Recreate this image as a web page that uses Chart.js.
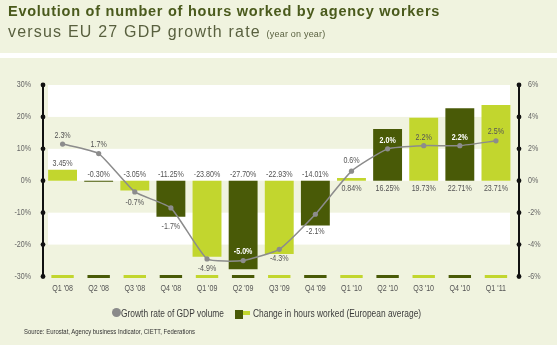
<!DOCTYPE html>
<html>
<head>
<meta charset="utf-8">
<script src="https://cdn.jsdelivr.net/npm/chart.js@4"></script>
<style>
  html, body { margin: 0; padding: 0; }
  body { width: 557px; height: 354px; position: relative; overflow: hidden; background: #ffffff; }
  #bgTop { position: absolute; left: 0; top: 0; width: 557px; height: 53px; background: #f0f3df; }
  #bgMain { position: absolute; left: 0; top: 58px; width: 557px; height: 287px; background: #f0f3df; }
  canvas { position: absolute; left: 0; top: 0; }
  .t1 { position: absolute; left: 8px; top: 3px; font-family: "Liberation Sans", Arial, sans-serif; font-weight: bold; font-size: 14.5px; color: #4a5a1c; white-space: nowrap; letter-spacing: 0.75px; }
  .t2 { position: absolute; left: 8px; top: 23px; font-family: "Liberation Sans", Arial, sans-serif; font-size: 16px; color: #59603f; white-space: nowrap; letter-spacing: 1.2px; }
  .t2 small { font-size: 9px; letter-spacing: 0.2px; }
  .lg { position: absolute; top: 307px; font-family: "Liberation Sans", Arial, sans-serif; font-size: 10.5px; color: #3c3c3c; white-space: nowrap; transform: scaleX(0.8); transform-origin: 0 0; }
  .dot { position: absolute; left: 112px; top: 308px; width: 9px; height: 9px; border-radius: 50%; background: #8a8a8a; }
  .sq { position: absolute; display: block; }
  .src { position: absolute; left: 24px; top: 328px; font-family: "Liberation Sans", Arial, sans-serif; font-size: 7px; color: #333; white-space: nowrap; transform: scaleX(0.85); transform-origin: 0 0; }
</style>
</head>
<body>
<div id="bgTop"></div>
<div id="bgMain"></div>
<canvas id="c" width="557" height="354"></canvas>
<div class="t1">Evolution of number of hours worked by agency workers</div>
<div class="t2">versus EU 27 GDP growth rate <small>(year on year)</small></div>
<div class="dot"></div>
<div class="lg" style="left:121px">Growth rate of GDP volume</div>
<i class="sq" style="left:235px;top:310px;width:8px;height:9px;background:#495a07"></i>
<i class="sq" style="left:243px;top:311px;width:7px;height:4px;background:#c2d62e"></i>
<div class="lg" style="left:253px">Change in hours worked (European average)</div>
<div class="src">Source: Eurostat, Agency business Indicator, CIETT, Federations</div>
<script>
const quarters = ["Q1 '08", "Q2 '08", "Q3 '08", "Q4 '08", "Q1 '09", "Q2 '09", "Q3 '09", "Q4 '09", "Q1 '10", "Q2 '10", "Q3 '10", "Q4 '10", "Q1 '11"];
const hoursChange = [3.45, -0.30, -3.05, -11.25, -23.80, -27.70, -22.93, -14.01, 0.84, 16.25, 19.73, 22.71, 23.71];
const gdpGrowth = [2.3, 1.7, -0.7, -1.7, -4.9, -5.0, -4.3, -2.1, 0.6, 2.0, 2.2, 2.2, 2.5];
const leftTicks = [-30, -20, -10, 0, 10, 20, 30];
const rightTicks = [-6, -4, -2, 0, 2, 4, 6];

const LIGHT = '#c2d62e', DARK = '#495a07';
const barColors = quarters.map((q, i) => i % 2 === 0 ? LIGHT : DARK);
const FONT = '"Liberation Sans", Arial, sans-serif';
const SX = 0.79; // horizontal condensing of chart text

// label placement for GDP values: offset in px from point (negative = above)
const gdpOffsets = [-9, -9, 11, 19, 10, -9, 9, 17, -11, -8, -8, -8, -9];
const gdpWhite = [false, false, false, false, false, true, false, false, false, true, false, true, false];

function txt(ctx, s, x, y, align) {
  ctx.save();
  ctx.translate(x, y);
  ctx.scale(SX, 1);
  ctx.textAlign = align;
  ctx.fillText(s, 0, 0);
  ctx.restore();
}

const bandsPlugin = {
  id: 'bands',
  beforeDatasetsDraw(chart) {
    const { ctx, chartArea, scales } = chart;
    const y = scales.y;
    const l = chartArea.left + 3.5, r = chartArea.right - 4;
    ctx.save();
    ctx.fillStyle = '#ffffff';
    [[20, 30], [0, 10], [-20, -10]].forEach(([a, b]) => {
      const y1 = y.getPixelForValue(b), y2 = y.getPixelForValue(a);
      ctx.fillRect(l, y1, r - l, y2 - y1);
    });
    const x = scales.x;
    const w = (x.getPixelForValue(1) - x.getPixelForValue(0)) * 0.62;
    const yb = y.getPixelForValue(-30);
    quarters.forEach((q, i) => {
      ctx.fillStyle = barColors[i];
      const cx = x.getPixelForValue(i);
      ctx.fillRect(cx - w / 2, yb - 1.5, w, 3);
    });
    ctx.restore();
  },
  afterDraw(chart) {
    const { ctx, chartArea, scales } = chart;
    ctx.save();
    ctx.strokeStyle = '#111';
    ctx.fillStyle = '#111';
    ctx.lineWidth = 2;
    const axes = [[scales.y, chartArea.left - 1.5, leftTicks], [scales.y1, chartArea.right + 5, rightTicks]];
    axes.forEach(([s, xp, ticks]) => {
      ctx.beginPath();
      ctx.moveTo(xp, s.getPixelForValue(ticks[0]));
      ctx.lineTo(xp, s.getPixelForValue(ticks[ticks.length - 1]));
      ctx.stroke();
      ticks.forEach(t => {
        ctx.beginPath();
        ctx.arc(xp, s.getPixelForValue(t), 2.4, 0, Math.PI * 2);
        ctx.fill();
      });
    });
    ctx.font = '9px ' + FONT;
    ctx.textBaseline = 'middle';
    ctx.fillStyle = '#666';
    leftTicks.forEach(t => txt(ctx, t + '%', chartArea.left - 13.5, scales.y.getPixelForValue(t), 'right'));
    rightTicks.forEach(t => txt(ctx, t + '%', chartArea.right + 14, scales.y1.getPixelForValue(t), 'left'));
    ctx.fillStyle = '#555';
    quarters.forEach((q, i) => txt(ctx, q, scales.x.getPixelForValue(i), chartArea.bottom + 12.5, 'center'));
    ctx.restore();
  }
};

const labelsPlugin = {
  id: 'valueLabels',
  afterDatasetsDraw(chart) {
    const { ctx, scales } = chart;
    const x = scales.x, y = scales.y, y1 = scales.y1;
    ctx.save();
    ctx.textBaseline = 'middle';
    ctx.font = '9px ' + FONT;
    ctx.fillStyle = '#555';
    const zero = y.getPixelForValue(0);
    hoursChange.forEach((v, i) => {
      const cx = x.getPixelForValue(i);
      let ty;
      if (i === 0) ty = y.getPixelForValue(v) - 6.5;
      else if (v < 0) ty = zero - 6;
      else ty = zero + 7.5;
      txt(ctx, v.toFixed(2) + '%', cx, ty, 'center');
    });
    gdpGrowth.forEach((v, i) => {
      const cx = x.getPixelForValue(i);
      const py = y1.getPixelForValue(v) + gdpOffsets[i];
      if (gdpWhite[i]) { ctx.fillStyle = '#ffffff'; ctx.font = 'bold 9px ' + FONT; }
      else { ctx.fillStyle = '#555'; ctx.font = '9px ' + FONT; }
      txt(ctx, v.toFixed(1) + '%', cx, py, 'center');
    });
    ctx.restore();
  }
};

new Chart(document.getElementById('c'), {
  data: {
    labels: quarters,
    datasets: [
      {
        type: 'line',
        label: 'Growth rate of GDP volume',
        data: gdpGrowth,
        yAxisID: 'y1',
        borderColor: '#8c8c8c',
        borderWidth: 1.5,
        backgroundColor: '#8c8c8c',
        pointRadius: 2.6,
        pointStyle: 'circle',
        pointBorderWidth: 0,
        tension: 0.15,
        order: 0
      },
      {
        type: 'bar',
        label: 'Change in hours worked (European average)',
        data: hoursChange,
        yAxisID: 'y',
        backgroundColor: barColors,
        barPercentage: 0.8,
        categoryPercentage: 1,
        order: 1
      }
    ]
  },
  options: {
    responsive: false,
    animation: false,
    devicePixelRatio: 1,
    layout: { padding: { top: 85, bottom: 57.5, left: 0, right: 0 } },
    plugins: { legend: { display: false }, tooltip: { enabled: false } },
    scales: {
      x: {
        type: 'category',
        offset: true,
        grid: { display: false, drawTicks: false },
        border: { display: false },
        ticks: { display: false },
        afterFit(s) { s.height = 20; }
      },
      y: {
        position: 'left',
        min: -30, max: 30,
        afterBuildTicks(s) { s.ticks = leftTicks.map(v => ({ value: v })); },
        grid: { display: false, drawTicks: false },
        border: { display: false },
        ticks: { display: false },
        afterFit(s) { s.width = 44.5; }
      },
      y1: {
        position: 'right',
        min: -6, max: 6,
        afterBuildTicks(s) { s.ticks = rightTicks.map(v => ({ value: v })); },
        grid: { display: false, drawTicks: false },
        border: { display: false },
        ticks: { display: false },
        afterFit(s) { s.width = 43; }
      }
    }
  },
  plugins: [bandsPlugin, labelsPlugin]
});
</script>
</body>
</html>
